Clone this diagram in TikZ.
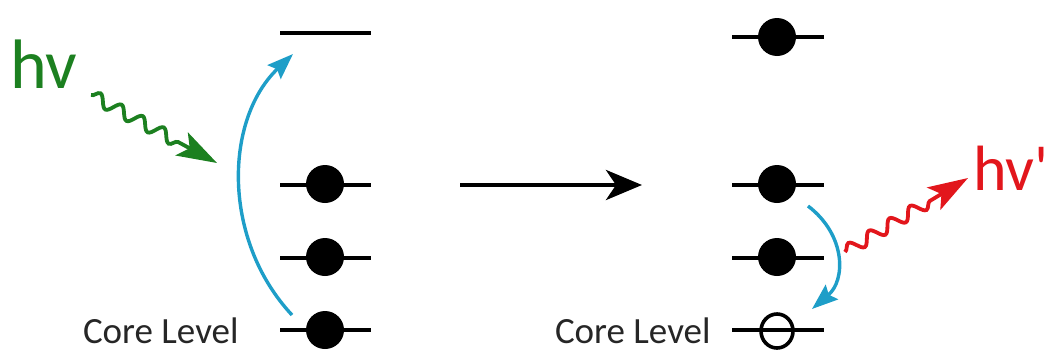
\documentclass[tikz,border=0pt]{standalone}
\usepackage{fontspec}
\setmainfont{Carlito}
\usetikzlibrary{arrows.meta,decorations.pathmorphing,shapes.geometric}
\definecolor{photongreen}{RGB}{28,128,32}
\definecolor{photonred}{RGB}{226,22,28}
\definecolor{transblue}{RGB}{30,158,200}
\begin{document}
\begin{tikzpicture}[x=1pt,y=-1pt,
  level/.style={line width=3.6pt},
  electron/.style={circle,fill=black,inner sep=0pt,minimum size=38pt},
  hole/.style={ellipse,draw=black,line width=3.6pt,inner sep=0pt,minimum width=32pt,minimum height=34pt},
  corelabel/.style={anchor=base east,font=\fontsize{37}{40}\selectfont,text=black!85},
  transition/.style={draw=transblue,line width=3.4pt,-{Stealth[length=26pt,width=19pt,inset=4pt]}},
  wave/.style={line width=3.8pt,decorate,decoration={snake,amplitude=6pt,segment length=24pt,post length=36pt}},
]
\useasboundingbox (0,0) rectangle (1051,351);

% energy levels before excitation
\draw[level] (280,33) -- (371,33);
\draw[level] (280,185) -- (371,185);
\draw[level] (280,258) -- (371,258);
\draw[level] (280,330) -- (371,330);
\node[electron] (l2) at (325,184) {};
\node[electron] (l3) at (325,257) {};
\node[electron] (l4) at (325,330) {};
\coordinate (l1) at (325,33);
\node[corelabel] (lcore) at (242,343) {Core Level};

% energy levels after excitation
\draw[level] (732,37) -- (824,37);
\draw[level] (732,185) -- (824,185);
\draw[level] (732,258) -- (824,258);
\draw[level] (732,330) -- (824,330);
\node[electron] (r1) at (777,37) {};
\node[electron] (r2) at (777,184) {};
\node[electron] (r3) at (777,257) {};
\node[hole] (r4) at (777,331) {};
\node[corelabel] (rcore) at (714,343) {Core Level};

% process arrow
\coordinate (pa) at (460,185);
\coordinate (pb) at (642,185);
\draw[line width=4.5pt,-{Stealth[length=36pt,width=30pt,inset=10pt]}] (pa) -- (pb);

% core electron excited to the empty upper level
\coordinate (ea) at (292,315);
\coordinate (eb) at (293,54);
\draw[transition] (ea) .. controls (222,240) and (224,120) .. (eb);

% electron dropping into the core hole
\coordinate (da) at (808,206);
\coordinate (db) at (812,309);
\draw[transition] (da) .. controls (846,235) and (846,280) .. (db);

% incoming photon
\node[text=photongreen,font=\fontsize{70}{72}\selectfont,anchor=base west,inner sep=0pt] (hv) at (10,88) {hv};
\coordinate (ga) at (91,95);
\coordinate (gb) at (217,163);
\draw[wave,draw=photongreen,-{Stealth[length=40pt,width=26pt,inset=9pt]}] (ga) -- (gb);

% emitted photon
\node[text=photonred,font=\fontsize{64}{66}\selectfont,anchor=base west,inner sep=0pt] (hvp) at (973,190) {hv\textquotesingle};
\coordinate (ra) at (845,252);
\coordinate (rb) at (968,178);
\draw[wave,draw=photonred,-{Stealth[length=40pt,width=26pt,inset=9pt]}] (ra) -- (rb);
\end{tikzpicture}
\end{document}
